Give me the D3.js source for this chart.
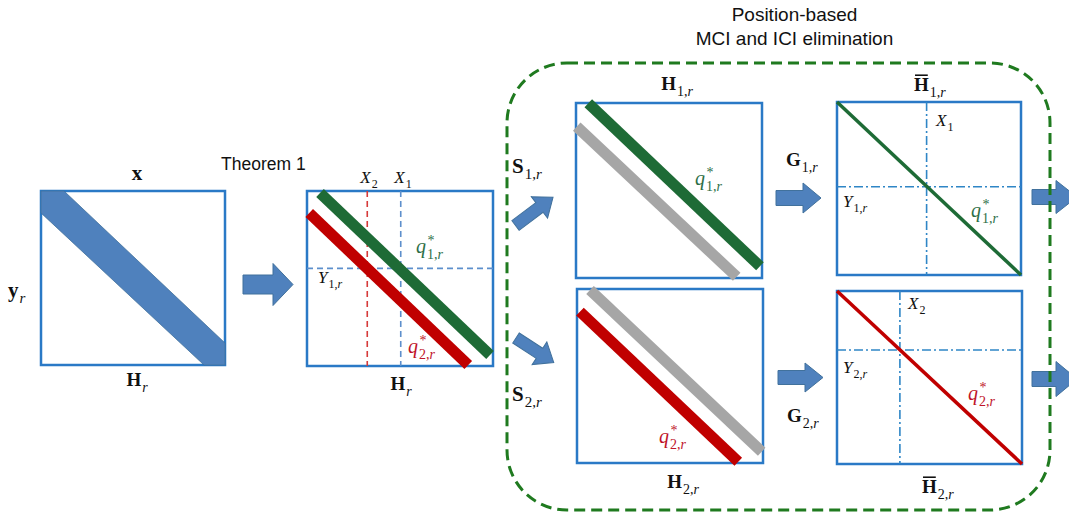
<!DOCTYPE html>
<html>
<head>
<meta charset="utf-8">
<script src="https://cdn.jsdelivr.net/npm/d3@7"></script>
<style>
  html, body { margin: 0; padding: 0; background: #ffffff; }
  svg { display: block; }
</style>
</head>
<body>
<svg id="chart" width="1069" height="515"></svg>
<script>
// ---------------- data (diagram content) ----------------
const matrixIds   = ["Hr_in", "Hr_thm", "H1r", "H2r", "Hbar1r", "Hbar2r"];
const titleLines  = ["Position-based", "MCI and ICI elimination"];
const theoremText = "Theorem 1";

// diagonal bands, expressed in unit coordinates of their matrix (u: column, v: row)
const bandIds     = ["g_thm", "r_thm", "g_H1", "k_H1", "k_H2", "r_H2", "g_bar1", "r_bar2"];
const bandMatrix  = ["Hr_thm", "Hr_thm", "H1r", "H1r", "H2r", "H2r", "Hbar1r", "Hbar2r"];
const bandKind    = ["green", "red", "green", "gray", "gray", "red", "green", "red"];
const bandU0      = [0.07, 0.012, 0.066, 0.004, 0.07, 0.016, 0, 0];
const bandV0      = [0.011, 0.126, 0.002, 0.135, 0.006, 0.13, 0, 0];
const bandU1      = [0.984, 0.867, 0.989, 0.864, 0.993, 0.867, 1, 1];
const bandV1      = [0.937, 0.994, 0.933, 0.993, 0.935, 0.993, 1, 1];

// wide blue band of the input channel matrix (unit polygon)
const inputBandU  = [0, 0.125, 1, 1, 0.886, 0];
const inputBandV  = [0, 0, 0.874, 1, 1, 0.126];

// position markers X (column) and Y (row), unit coordinates
const markerMatrix = ["Hr_thm", "Hr_thm", "Hr_thm", "Hbar1r", "Hbar1r", "Hbar2r", "Hbar2r"];
const markerAxis   = ["x", "x", "y", "x", "y", "x", "y"];
const markerValue  = [0.324, 0.504, 0.442, 0.487, 0.49, 0.34, 0.341];
const markerKind   = ["redDash", "blueDash", "blueDash", "dashDot", "dashDot", "dashDot", "dashDot"];

// ---------------- layout ----------------
const W = 1069, H = 515;
const boxLayout = {
  Hr_in:  [41, 191, 225, 365],
  Hr_thm: [307, 191, 493, 366],
  H1r:    [576, 103, 762, 278],
  H2r:    [577, 289, 763, 463],
  Hbar1r: [837, 102, 1021, 275],
  Hbar2r: [837, 291, 1022, 464]
};
const colors = {
  box: "#2a79c6", band: "#4f81bd", arrow: "#4f81bd", arrowStroke: "#41719c",
  green: "#1e6b36", red: "#c00000", gray: "#a6a6a6",
  greenText: "#2e6f48", redText: "#c0142a",
  redDash: "#d63a3a", blueDash: "#5d8fcc", dashDot: "#2f86c6",
  frame: "#1f7a1f", text: "#111111"
};
const mathFont = "'Liberation Serif', 'Times New Roman', serif";
const sansFont = "'Liberation Sans', Arial, sans-serif";

const svg = d3.select("#chart");
svg.append("rect").attr("width", W).attr("height", H).attr("fill", "#fff");

// scales for each matrix box
const scales = {};
matrixIds.forEach(id => {
  const [x0, y0, x1, y1] = boxLayout[id];
  scales[id] = {
    x: d3.scaleLinear().domain([0, 1]).range([x0, x1]),
    y: d3.scaleLinear().domain([0, 1]).range([y0, y1])
  };
});

// ---------------- block arrows ----------------
function arrowPoints(len, h, shaft, head) {
  return [[0, -shaft / 2], [len - head, -shaft / 2], [len - head, -h / 2], [len, 0],
          [len - head, h / 2], [len - head, shaft / 2], [0, shaft / 2]];
}
const arrowTails = [[243, 284.5], [515.5, 225.5], [516, 338], [776, 198], [778, 377.5], [1032, 197], [1032, 379]];
const arrowAngle = [0, -37, 33, 0, 0, 0, 0];
const arrowSpec  = [[50, 42, 19, 20], [47, 27, 12, 17], [45, 27, 12, 17], [45, 30, 15, 18], [45, 29, 14, 18], [45, 33, 15, 21], [45, 35, 15, 21]];
const line = d3.line();
arrowTails.forEach((t, i) => {
  const [len, h, s, hd] = arrowSpec[i];
  svg.append("path")
    .attr("d", line(arrowPoints(len, h, s, hd)) + "Z")
    .attr("transform", `translate(${t[0]},${t[1]}) rotate(${arrowAngle[i]})`)
    .attr("fill", colors.arrow)
    .attr("stroke", colors.arrowStroke)
    .attr("stroke-width", 1);
});

// ---------------- boxes ----------------
matrixIds.forEach(id => {
  const s = scales[id];
  svg.append("rect")
    .attr("x", s.x(0)).attr("y", s.y(0))
    .attr("width", s.x(1) - s.x(0)).attr("height", s.y(1) - s.y(0))
    .attr("fill", "#fff")
    .attr("stroke", colors.box)
    .attr("stroke-width", 2.5);
});

// input band
{
  const s = scales["Hr_in"];
  const pts = inputBandU.map((u, i) => [s.x(u), s.y(inputBandV[i])]);
  svg.append("path").attr("d", line(pts) + "Z")
    .attr("fill", colors.band).attr("stroke", "#41719c").attr("stroke-width", 0.8);
}

// markers (dashed position lines)
const dashStyles = { redDash: "6 4", blueDash: "6 4", dashDot: "9 3 2 3" };
markerMatrix.forEach((m, i) => {
  const s = scales[m];
  const v = markerValue[i];
  const pts = markerAxis[i] === "x"
    ? [[s.x(v), s.y(0)], [s.x(v), s.y(1)]]
    : [[s.x(0), s.y(v)], [s.x(1), s.y(v)]];
  svg.append("path").attr("d", line(pts))
    .attr("stroke", colors[markerKind[i]])
    .attr("stroke-width", 1.6)
    .attr("stroke-dasharray", dashStyles[markerKind[i]])
    .attr("fill", "none");
});

// diagonal bands
bandIds.forEach((id, i) => {
  const s = scales[bandMatrix[i]];
  const thin = bandMatrix[i].startsWith("Hbar");
  svg.append("path")
    .attr("d", line([[s.x(bandU0[i]), s.y(bandV0[i])], [s.x(bandU1[i]), s.y(bandV1[i])]]))
    .attr("stroke", colors[bandKind[i]])
    .attr("stroke-width", thin ? 3.5 : 11)
    .attr("stroke-linecap", "butt")
    .attr("fill", "none");
});

// ---------------- dashed rounded frame ----------------
svg.append("rect")
  .attr("x", 507).attr("y", 63).attr("width", 543).attr("height", 447)
  .attr("rx", 60).attr("ry", 60)
  .attr("fill", "none")
  .attr("stroke", colors.frame)
  .attr("stroke-width", 3)
  .attr("stroke-dasharray", "11 6");

// ---------------- text ----------------
svg.append("text").attr("x", 794.5).attr("y", 21).attr("text-anchor", "middle")
  .style("font-family", sansFont).style("font-size", "19px").attr("fill", colors.text)
  .text(titleLines[0]);
svg.append("text").attr("x", 794.5).attr("y", 45).attr("text-anchor", "middle")
  .style("font-family", sansFont).style("font-size", "19px").attr("fill", colors.text)
  .text(titleLines[1]);
svg.append("text").attr("x", 221).attr("y", 170)
  .style("font-family", sansFont).style("font-size", "17.5px").attr("fill", colors.text)
  .text(theoremText);

// math labels: [x, y, anchor, base, bold, italic, sub, sup, bar, color, size]
const mathLabels = [
  [137, 180, "middle", "x", true, false, null, null, false, "text", 21],
  [8, 297, "start", "y", true, false, "r", null, false, "text", 21],
  [137, 386, "middle", "H", true, false, "r", null, false, "text", 19],
  [369, 183, "middle", "X", false, true, "2", null, false, "text", 17],
  [403, 183, "middle", "X", false, true, "1", null, false, "text", 17],
  [416, 253, "start", "q", false, true, "1,r", "*", false, "greenText", 20],
  [318, 283, "start", "Y", false, true, "1,r", null, false, "text", 17],
  [408, 353, "start", "q", false, true, "2,r", "*", false, "redText", 20],
  [401, 390, "middle", "H", true, false, "r", null, false, "text", 19],
  [677, 90, "middle", "H", true, false, "1,r", null, false, "text", 19],
  [695, 185, "start", "q", false, true, "1,r", "*", false, "greenText", 20],
  [512, 173, "start", "S", true, false, "1,r", null, false, "text", 21],
  [512, 401, "start", "S", true, false, "2,r", null, false, "text", 21],
  [683, 488, "middle", "H", true, false, "2,r", null, false, "text", 19],
  [659, 443, "start", "q", false, true, "2,r", "*", false, "redText", 20],
  [786, 166, "start", "G", true, false, "1,r", null, false, "text", 19],
  [914, 91, "start", "H", true, false, "1,r", null, true, "text", 19],
  [936, 126, "start", "X", false, true, "1", null, false, "text", 17],
  [843, 207, "start", "Y", false, true, "1,r", null, false, "text", 17],
  [971, 217, "start", "q", false, true, "1,r", "*", false, "greenText", 20],
  [787, 422, "start", "G", true, false, "2,r", null, false, "text", 19],
  [922, 493, "start", "H", true, false, "2,r", null, true, "text", 19],
  [908, 309, "start", "X", false, true, "2", null, false, "text", 17],
  [843, 373, "start", "Y", false, true, "2,r", null, false, "text", 17],
  [968, 400, "start", "q", false, true, "2,r", "*", false, "redText", 20]
];

function addSub(g, str, x, y, size, color) {
  const t = g.append("text").attr("x", x).attr("y", y)
    .style("font-family", mathFont).style("font-size", size + "px").attr("fill", color);
  // digits and comma upright, letters italic
  const parts = str.match(/[0-9,]+|[a-zA-Z]+/g) || [];
  parts.forEach(p => {
    t.append("tspan").style("font-style", /[a-zA-Z]/.test(p) ? "italic" : "normal").text(p);
  });
  return t.node().getComputedTextLength();
}

mathLabels.forEach(([x, y, anchor, base, bold, italic, sub, sup, bar, colKey, size]) => {
  const color = colors[colKey];
  const g = svg.append("g");
  const t = g.append("text").attr("x", 0).attr("y", 0)
    .style("font-family", mathFont).style("font-size", size + "px")
    .style("font-weight", bold ? "bold" : "normal")
    .style("font-style", italic ? "italic" : "normal")
    .attr("fill", color).text(base);
  const w = t.node().getComputedTextLength();
  const subSize = Math.round(size * 0.72);
  let extra = 0;
  if (sub) extra = Math.max(extra, addSub(g, sub, w + 1, size * 0.3, subSize, color));
  if (sup) {
    const st = g.append("text").attr("x", w + 1.5).attr("y", -size * 0.42)
      .style("font-family", mathFont).style("font-size", subSize + "px")
      .attr("fill", color).text(sup);
    extra = Math.max(extra, st.node().getComputedTextLength());
  }
  if (bar) {
    g.append("line").attr("x1", 1).attr("x2", w - 1)
      .attr("y1", -size * 0.83).attr("y2", -size * 0.83)
      .attr("stroke", color).attr("stroke-width", 1.6);
  }
  const total = w + (extra ? extra + 1 : 0);
  const dx = anchor === "middle" ? -total / 2 : 0;
  g.attr("transform", `translate(${x + dx},${y})`);
});
</script>
</body>
</html>
